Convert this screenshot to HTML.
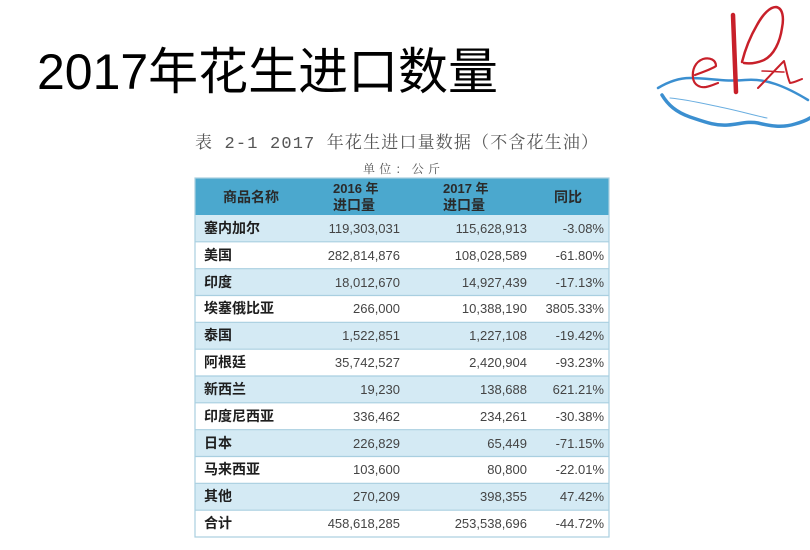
<!DOCTYPE html>
<html><head><meta charset="utf-8">
<style>
html,body{margin:0;padding:0;background:#fff;}
svg{display:block;}
.cj{font-family:"Liberation Sans","Noto Sans CJK SC",sans-serif;}
</style></head>
<body>
<svg width="810" height="550" viewBox="0 0 810 550" xmlns="http://www.w3.org/2000/svg">
<rect width="810" height="550" fill="#fff"/>
<!-- Title -->
<text x="37" y="89" font-size="50" fill="#000" font-family="Liberation Sans, Noto Sans CJK SC, sans-serif" textLength="461" lengthAdjust="spacingAndGlyphs">2017年花生进口数量</text>

<!-- Logo -->
<g fill="none" stroke-linecap="round" stroke-linejoin="round">
  <path d="M658,88 C668,82 678,78 690,78 C710,78 725,82 745,80 C765,78 785,86 808,100" stroke="#3b8fd0" stroke-width="2.5"/>
  <path d="M662,95 C668,105 676,112 690,117 C705,122 715,126 728,125 C740,124 748,121 758,123 C770,126 782,128 795,124 C802,122 807,120 810,118" stroke="#3b8fd0" stroke-width="3.5"/>
  <path d="M670,98 C690,100 705,104 720,107 C740,111 752,115 767,118" stroke="#6aaee0" stroke-width="1"/>
  <path d="M695,75 C703,72 712,69 716,66 C716,60 710,57 703,59 C695,62 692,70 693,78 C694,85 700,88 706,87 C711,86 715,84 718,83" stroke="#c8202a" stroke-width="2.2"/>
  <path d="M733,15 C734,40 735,65 736,92" stroke="#c8202a" stroke-width="4.5"/>
  <path d="M742,62 C745,50 750,37 757,25 C763,14 770,7 776,7 C783,8 784,18 782,28 C780,42 774,55 764,60 C757,63 750,64 744,63" stroke="#c8202a" stroke-width="2.5"/>
  <path d="M758,88 C766,80 775,70 784,61 C786,68 787,76 790,83 C793,83 797,81 802,79" stroke="#c8202a" stroke-width="2"/>
  <path d="M762,71 C770,71 777,72 784,72" stroke="#c8202a" stroke-width="1.5"/>
</g>

<!-- Caption -->
<text x="195" y="148" font-size="17" fill="#555" font-family="Liberation Mono, Noto Serif CJK SC, serif" textLength="403" lengthAdjust="spacing">表 2-1 2017 年花生进口量数据（不含花生油）</text>
<text x="363" y="173" font-size="12" fill="#555" font-family="Liberation Sans, Noto Serif CJK SC, serif" textLength="77" lengthAdjust="spacing">单位：公斤</text>

<!-- Table header -->
<rect x="195" y="178" width="414" height="37" fill="#4ba8ce"/>
<g font-family="Liberation Sans, Noto Sans CJK SC, sans-serif" font-weight="bold" font-size="14" fill="#2a2a2a">
  <text x="251" y="202" text-anchor="middle">商品名称</text>
  <text x="333" y="193" font-size="13">2016 年</text>
  <text x="333" y="210">进口量</text>
  <text x="443" y="193" font-size="13">2017 年</text>
  <text x="443" y="210">进口量</text>
  <text x="568" y="202" text-anchor="middle">同比</text>
</g>

<!-- Rows -->
<g>
  <rect x="195" y="215" width="414" height="26.8" fill="#d4eaf4"/>
  <rect x="195" y="268.7" width="414" height="26.8" fill="#d4eaf4"/>
  <rect x="195" y="322.3" width="414" height="26.8" fill="#d4eaf4"/>
  <rect x="195" y="376" width="414" height="26.8" fill="#d4eaf4"/>
  <rect x="195" y="429.7" width="414" height="26.8" fill="#d4eaf4"/>
  <rect x="195" y="483.3" width="414" height="26.8" fill="#d4eaf4"/>
</g>
<g stroke="#a9cfe0" stroke-width="1.2">
  <line x1="195" y1="241.8" x2="609" y2="241.8"/>
  <line x1="195" y1="268.7" x2="609" y2="268.7"/>
  <line x1="195" y1="295.5" x2="609" y2="295.5"/>
  <line x1="195" y1="322.3" x2="609" y2="322.3"/>
  <line x1="195" y1="349.2" x2="609" y2="349.2"/>
  <line x1="195" y1="376" x2="609" y2="376"/>
  <line x1="195" y1="402.8" x2="609" y2="402.8"/>
  <line x1="195" y1="429.7" x2="609" y2="429.7"/>
  <line x1="195" y1="456.5" x2="609" y2="456.5"/>
  <line x1="195" y1="483.3" x2="609" y2="483.3"/>
  <line x1="195" y1="510.2" x2="609" y2="510.2"/>
  <rect x="195" y="178" width="414" height="359" fill="none"/>
</g>

<g font-family="Liberation Sans, Noto Sans CJK SC, sans-serif" font-weight="bold" font-size="14" fill="#1e1e1e">
  <text x="204" y="233">塞内加尔</text>
  <text x="204" y="260">美国</text>
  <text x="204" y="287">印度</text>
  <text x="204" y="313">埃塞俄比亚</text>
  <text x="204" y="340">泰国</text>
  <text x="204" y="367">阿根廷</text>
  <text x="204" y="394">新西兰</text>
  <text x="204" y="421">印度尼西亚</text>
  <text x="204" y="448">日本</text>
  <text x="204" y="474">马来西亚</text>
  <text x="204" y="501">其他</text>
  <text x="204" y="528">合计</text>
</g>

<g font-family="Liberation Sans, sans-serif" font-size="13" fill="#444" text-anchor="end">
  <text x="400" y="233">119,303,031</text>
  <text x="400" y="260">282,814,876</text>
  <text x="400" y="287">18,012,670</text>
  <text x="400" y="313">266,000</text>
  <text x="400" y="340">1,522,851</text>
  <text x="400" y="367">35,742,527</text>
  <text x="400" y="394">19,230</text>
  <text x="400" y="421">336,462</text>
  <text x="400" y="448">226,829</text>
  <text x="400" y="474">103,600</text>
  <text x="400" y="501">270,209</text>
  <text x="400" y="528">458,618,285</text>

  <text x="527" y="233">115,628,913</text>
  <text x="527" y="260">108,028,589</text>
  <text x="527" y="287">14,927,439</text>
  <text x="527" y="313">10,388,190</text>
  <text x="527" y="340">1,227,108</text>
  <text x="527" y="367">2,420,904</text>
  <text x="527" y="394">138,688</text>
  <text x="527" y="421">234,261</text>
  <text x="527" y="448">65,449</text>
  <text x="527" y="474">80,800</text>
  <text x="527" y="501">398,355</text>
  <text x="527" y="528">253,538,696</text>

  <text x="604" y="233">-3.08%</text>
  <text x="604" y="260">-61.80%</text>
  <text x="604" y="287">-17.13%</text>
  <text x="604" y="313">3805.33%</text>
  <text x="604" y="340">-19.42%</text>
  <text x="604" y="367">-93.23%</text>
  <text x="604" y="394">621.21%</text>
  <text x="604" y="421">-30.38%</text>
  <text x="604" y="448">-71.15%</text>
  <text x="604" y="474">-22.01%</text>
  <text x="604" y="501">47.42%</text>
  <text x="604" y="528">-44.72%</text>
</g>
</svg>
</body></html>
